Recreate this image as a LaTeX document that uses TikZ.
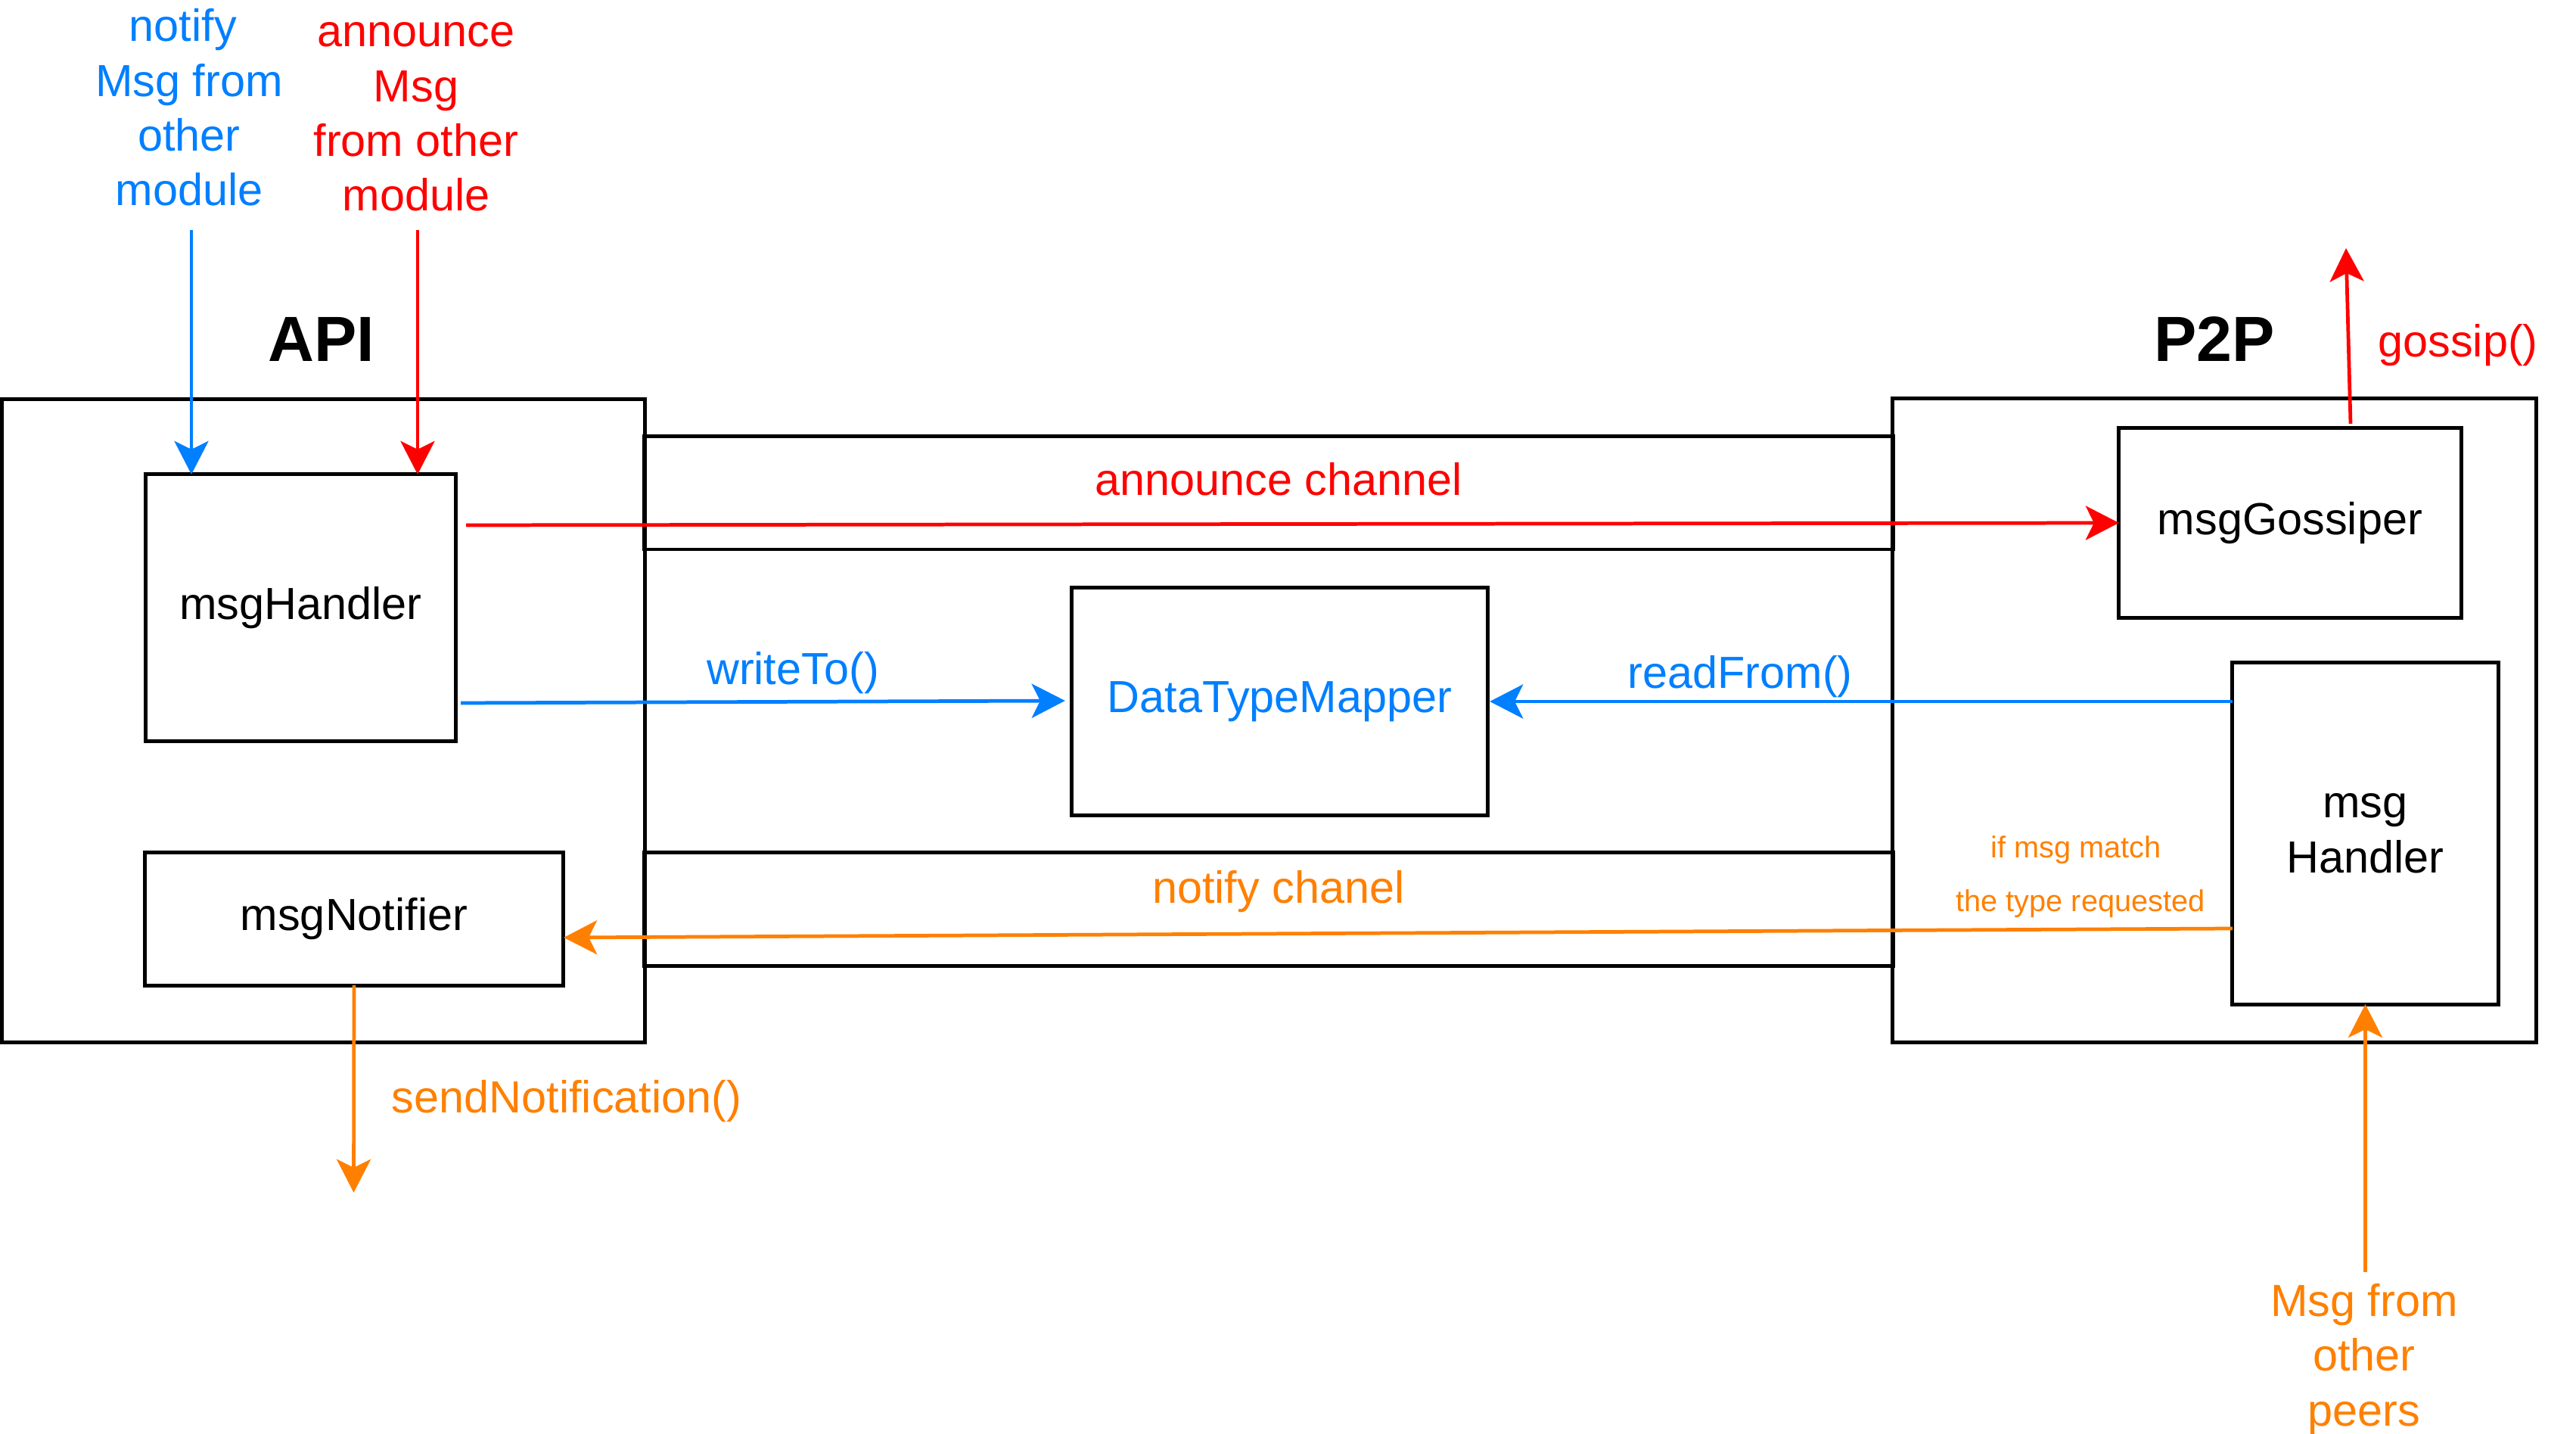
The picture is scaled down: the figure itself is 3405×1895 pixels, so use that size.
\documentclass[tikz,border=0pt]{standalone}
\usepackage{fontspec}
\setmainfont{Liberation Sans}
\usetikzlibrary{arrows.meta,calc}
\definecolor{cblue}{HTML}{007FFF}
\definecolor{cred}{HTML}{FF0000}
\definecolor{corange}{HTML}{FF8000}
\begin{document}
\begin{tikzpicture}[x=0.01cm,y=-0.01cm,
  every node/.style={inner sep=0pt, outer sep=0pt, font=\fontsize{16.9}{20.6}\selectfont},
  boxstyle/.style={draw=black, line width=1.4pt, rectangle},
  titlefont/.style={font=\fontsize{24}{28}\selectfont\bfseries},
  smallfont/.style={font=\fontsize{11.3}{13.5}\selectfont},
  arr/.style={line width=1.35pt, -{Stealth[length=0.44cm,width=0.45cm,inset=0.11cm]}},
  lbl/.style={anchor=base, align=center}
]
\useasboundingbox (0,0) rectangle (3405,1895);

% channels
\node[boxstyle, minimum width=16.5cm, minimum height=1.49cm] (ch1) at (1677,651.5) {};
\node[boxstyle, minimum width=16.5cm, minimum height=1.49cm] (ch2) at (1677,1201.5) {};

% frames
\node[boxstyle, minimum width=8.49cm, minimum height=8.49cm] (api) at (427.5,952.5) {};
\node[boxstyle, minimum width=8.50cm, minimum height=8.50cm] (p2p) at (2927,952) {};
\node[titlefont, anchor=base] (apit) at (425,478) {API};
\node[titlefont, anchor=base] (p2pt) at (2927,478) {P2P};

% inner boxes
\node[boxstyle, minimum width=4.09cm, minimum height=3.52cm] (mh) at (397.5,803) {msgHandler};
\node[boxstyle, minimum width=5.52cm, minimum height=1.75cm] (mn) at (468,1214.5) {msgNotifier};
\node[boxstyle, minimum width=5.49cm, minimum height=3.00cm, text=cblue] (dtm) at (1691.5,927) {DataTypeMapper};
\node[boxstyle, minimum width=4.52cm, minimum height=2.50cm] (gos) at (3027,691) {msgGossiper};
\node[boxstyle, minimum width=3.51cm, minimum height=4.51cm, align=center] (mh2) at (3126.5,1101.5) {msg\\Handler};

% free ends
\coordinate (nb) at (253,304);
\coordinate (nr) at (552,304);
\coordinate (sn) at (467.5,1576);
\coordinate (gt) at (3101,328);
\coordinate (pe) at (3126.5,1681);

% connectors
\draw[arr, cblue] (nb) -- (nb |- mh.north);
\draw[arr, cred] (nr) -- (nr |- mh.north);
\draw[arr, cred] ($(mh.east |- gos.west)+(14,3)$) -- (gos.west);
\draw[arr, cblue] ($(mh.east)+(7,126)$) -- ($(dtm.west)+(-9,-1)$);
\draw[arr, cblue] (mh2.west |- dtm.east) -- ($(dtm.east)+(3,0)$);
\draw[arr, corange] ($(mh2.west)+(0,125.5)$) -- ($(mn.east)+(1,24.5)$);
\draw[arr, corange] (mn.south) -- (sn);
\draw[arr, cred] ($(gos.north)+(80,-6)$) -- (gt);
\draw[arr, corange] (pe) -- (mh2.south);

% labels (base = baseline of the last line)
\node[lbl, text=cblue] (tl1) at (250,272) {notify\hspace*{0.278em}\\Msg from\\other\\module};
\node[lbl, text=cred] (tl2) at (550,279) {announce\\Msg\hspace*{0.278em}\\from other\\module};
\node[lbl, text=corange] (br) at (3125,1884) {Msg from\\other\\peers};
\node[lbl, text=cred] (l1) at (1690,655) {announce channel};
\node[lbl, text=cblue] (l2) at (1048,905) {writeTo()};
\node[lbl, text=cblue] (l3) at (2300,910) {readFrom()};
\node[lbl, text=corange] (l4) at (1690,1194) {notify chanel};
\node[lbl, smallfont, text=corange] (l5) at (2744,1134) {if msg match};
\node[lbl, smallfont, text=corange] (l6) at (2750,1205) {the type requested};
\node[lbl, text=corange] (l7) at (749,1470) {sendNotification()};
\node[lbl, text=cred] (l8) at (3249,472) {gossip()};
\end{tikzpicture}
\end{document}
